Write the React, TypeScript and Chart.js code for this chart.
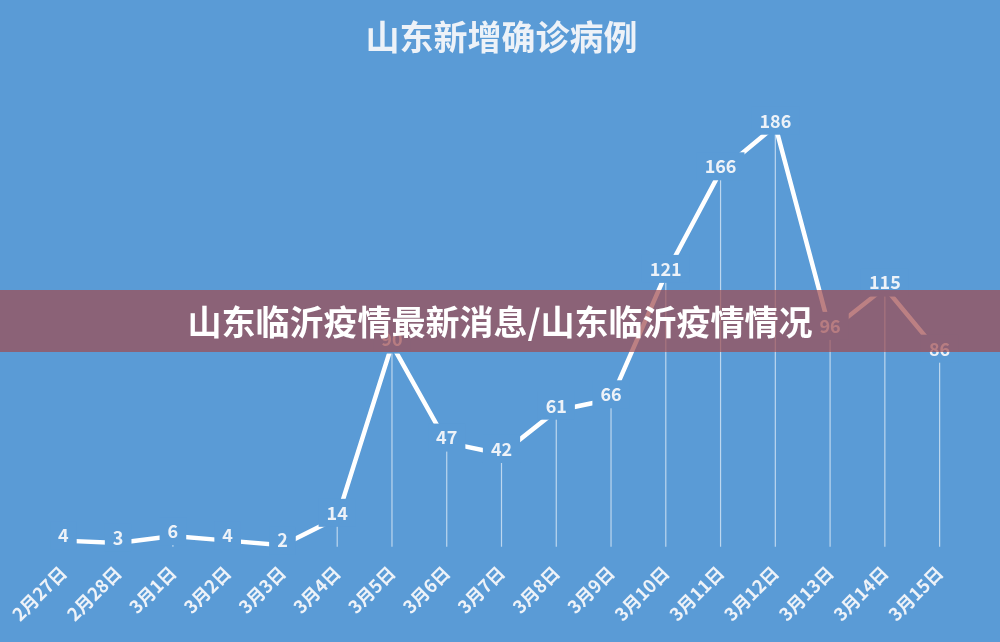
import React, { useEffect, useRef } from 'react';
import { Chart, registerables, Plugin } from 'chart.js';

Chart.register(...registerables);

// Chart data
const categories = [
  '2月27日', '2月28日', '3月1日', '3月2日', '3月3日', '3月4日', '3月5日', '3月6日', '3月7日',
  '3月8日', '3月9日', '3月10日', '3月11日', '3月12日', '3月13日', '3月14日', '3月15日'
];
const newCases = [4, 3, 6, 4, 2, 14, 90, 47, 42, 61, 66, 121, 166, 186, 96, 115, 86];

const chartTitle = '山东新增确诊病例';
const bannerText = '山东临沂疫情最新消息/山东临沂疫情情况';

const BG = '#5a9bd6';
const TEXT = '#edf2f8';
const FONT = '"Noto Sans CJK SC", "Noto Sans", sans-serif';

// Thin drop lines from each point down to the axis
const dropLines: Plugin<'line'> = {
  id: 'dropLines',
  beforeDatasetsDraw(chart) {
    const { ctx, chartArea } = chart;
    const meta = chart.getDatasetMeta(0);
    ctx.save();
    ctx.strokeStyle = 'rgba(255,255,255,0.6)';
    ctx.lineWidth = 1.2;
    meta.data.forEach((pt) => {
      ctx.beginPath();
      ctx.moveTo(pt.x, pt.y);
      ctx.lineTo(pt.x, chartArea.bottom - 3);
      ctx.stroke();
    });
    ctx.restore();
  }
};

// Value labels with a background box that hides the line near each point
const valueLabels: Plugin<'line'> = {
  id: 'valueLabels',
  afterDatasetsDraw(chart) {
    const { ctx } = chart;
    const meta = chart.getDatasetMeta(0);
    ctx.save();
    ctx.font = `bold 18px ${FONT}`;
    ctx.textAlign = 'center';
    ctx.textBaseline = 'middle';
    meta.data.forEach((pt, i) => {
      const txt = String(newCases[i]);
      const w = ctx.measureText(txt).width;
      const cy = pt.y - 5;
      ctx.fillStyle = BG;
      ctx.fillRect(pt.x - w / 2 - 8, cy - 14, w + 16, 28);
      ctx.fillStyle = TEXT;
      ctx.fillText(txt, pt.x, cy);
    });
    ctx.restore();
  }
};

const LineChart: React.FC = () => {
  const canvasRef = useRef<HTMLCanvasElement>(null);
  const chartRef = useRef<Chart | null>(null);

  useEffect(() => {
    const ctx = canvasRef.current?.getContext('2d');
    if (!ctx) return;
    if (chartRef.current) chartRef.current.destroy();

    chartRef.current = new Chart(ctx, {
      type: 'line',
      data: {
        labels: categories,
        datasets: [
          {
            label: '新增确诊',
            data: newCases,
            borderColor: '#ffffff',
            borderWidth: 4.5,
            pointRadius: 0,
            tension: 0,
            fill: false
          }
        ]
      },
      options: {
        animation: false,
        responsive: true,
        maintainAspectRatio: false,
        layout: { padding: { left: 36, right: 33, bottom: 13 } },
        plugins: {
          legend: { display: false },
          tooltip: { enabled: false },
          title: {
            display: true,
            text: chartTitle,
            color: TEXT,
            font: { family: FONT, size: 34, weight: 'bold' },
            padding: { top: 17, bottom: 36 }
          }
        },
        scales: {
          x: {
            offset: true,
            grid: { display: false },
            border: { display: false },
            ticks: {
              color: TEXT,
              font: { family: FONT, size: 18, weight: 'bold' },
              minRotation: 45,
              maxRotation: 45,
              padding: 4,
              autoSkip: false
            }
          },
          y: {
            display: false,
            min: 0,
            max: 200
          }
        }
      },
      plugins: [dropLines, valueLabels]
    });

    return () => {
      if (chartRef.current) {
        chartRef.current.destroy();
        chartRef.current = null;
      }
    };
  }, []);

  return (
    <div style={{ position: 'fixed', left: 0, top: 0, width: 1000, height: 642, background: BG }}>
      <canvas ref={canvasRef} />
      <div
        style={{
          position: 'absolute',
          left: 0,
          top: 290,
          width: 1000,
          height: 62,
          background: 'rgba(160,74,78,0.7)',
          color: '#ffffff',
          fontFamily: FONT,
          fontWeight: 'bold',
          fontSize: 34,
          lineHeight: '62px',
          textAlign: 'center'
        }}
      >
        {bannerText}
      </div>
    </div>
  );
};

export default function App() {
  return <LineChart />;
}
